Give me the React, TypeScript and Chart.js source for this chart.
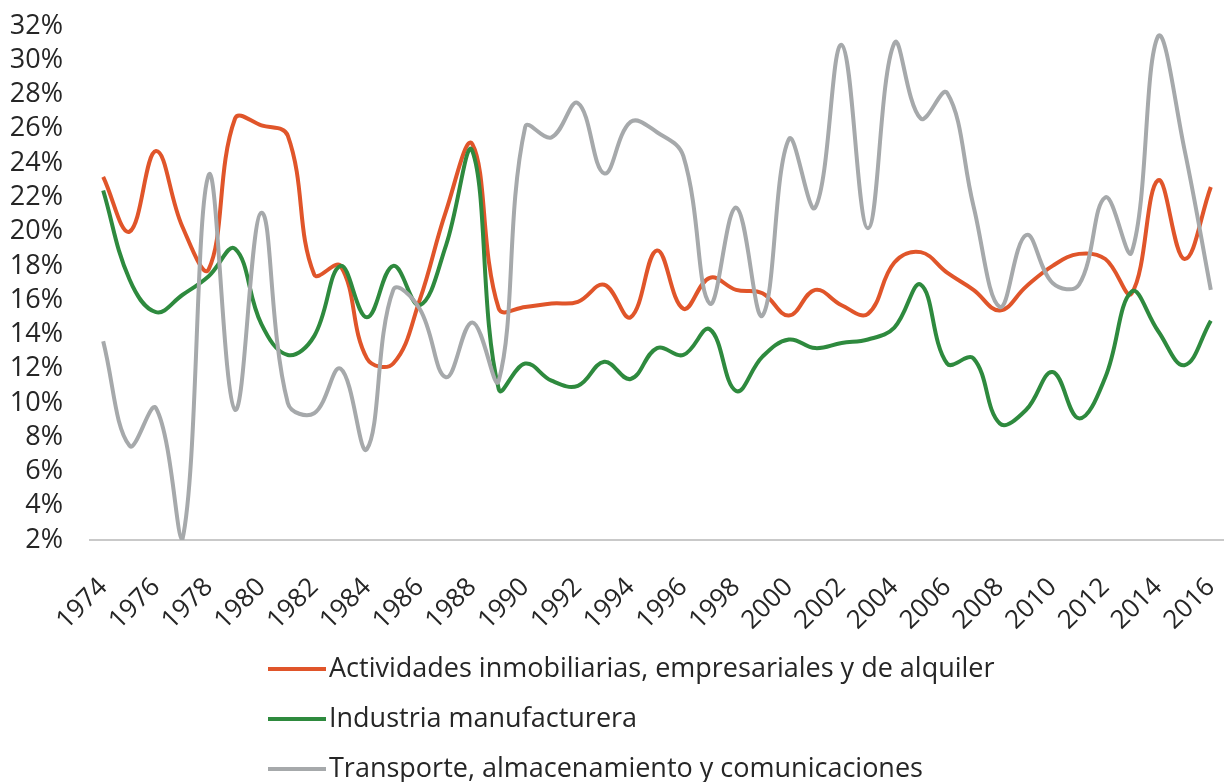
import React, { useEffect, useRef } from "react";
import { Chart, registerables } from "chart.js";

Chart.register(...registerables);

const years: string[] = [
  "1974","1975","1976","1977","1978","1979","1980","1981","1982","1983",
  "1984","1985","1986","1987","1988","1989","1990","1991","1992","1993",
  "1994","1995","1996","1997","1998","1999","2000","2001","2002","2003",
  "2004","2005","2006","2007","2008","2009","2010","2011","2012","2013",
  "2014","2015","2016",
];

const actividades: number[] = [
  23.2, 20.0, 24.7, 20.3, 17.8, 26.6, 26.2, 25.6, 17.5, 18.0,
  12.6, 12.3, 16.0, 21.2, 25.1, 15.5, 15.6, 15.8, 15.9, 16.9,
  15.0, 18.9, 15.5, 17.3, 16.6, 16.4, 15.1, 16.6, 15.7, 15.2,
  18.2, 18.8, 17.6, 16.6, 15.4, 16.8, 18.0, 18.7, 18.4, 16.4,
  23.0, 18.4, 22.6,
];

const industria: number[] = [
  22.4, 17.2, 15.3, 16.3, 17.4, 19.0, 14.6, 12.8, 13.9, 18.0,
  15.0, 18.0, 15.7, 19.2, 24.7, 10.8, 12.3, 11.3, 11.0, 12.4,
  11.4, 13.2, 12.8, 14.3, 10.7, 12.7, 13.7, 13.2, 13.5, 13.7,
  14.4, 16.9, 12.3, 12.6, 8.8, 9.6, 11.8, 9.1, 11.5, 16.5,
  14.2, 12.2, 14.8,
];

const transporte: number[] = [
  13.6, 7.5, 9.7, 2.0, 23.3, 9.6, 21.1, 10.0, 9.4, 12.0,
  7.3, 16.6, 15.5, 11.5, 14.7, 11.3, 26.1, 25.5, 27.5, 23.4,
  26.4, 25.8, 24.4, 15.8, 21.4, 15.1, 25.4, 21.4, 30.9, 20.2,
  31.0, 26.6, 28.1, 21.5, 15.6, 19.8, 17.0, 16.9, 22.0, 18.8,
  31.4, 24.8, 16.6,
];

const seriesNames: string[] = [
  "Actividades inmobiliarias, empresariales y de alquiler",
  "Industria manufacturera",
  "Transporte, almacenamiento y comunicaciones",
];

const yTicksMin = 2;
const yTicksMax = 32;
const yTickStep = 2;

const COLORS = ["#E0552A", "#2E8A3E", "#A6A9AB"];
const FONT = "'Open Sans', 'DejaVu Sans', sans-serif";
const TEXT = "#262626";

const legendPlugin = {
  id: "stackedLegend",
  afterDraw(chart: any) {
    const ctx = chart.ctx as CanvasRenderingContext2D;
    const base = chart.chartArea.bottom;
    ctx.save();
    chart.data.datasets.forEach((ds: any, i: number) => {
      const y = base + 129 + i * 50;
      ctx.strokeStyle = ds.borderColor;
      ctx.lineWidth = 4;
      ctx.lineCap = "butt";
      ctx.beginPath();
      ctx.moveTo(268, y);
      ctx.lineTo(326, y);
      ctx.stroke();
      ctx.fillStyle = TEXT;
      ctx.font = `27px ${FONT}`;
      ctx.textAlign = "left";
      ctx.textBaseline = "middle";
      ctx.fillText(ds.label, 329, y);
    });
    ctx.restore();
  },
};

export default function App() {
  const ref = useRef<HTMLCanvasElement | null>(null);
  useEffect(() => {
    document.body.style.margin = "0";
    const canvas = ref.current!;
    const mk = (i: number, data: number[], order: number) => ({
      label: seriesNames[i],
      data,
      borderColor: COLORS[i],
      backgroundColor: COLORS[i],
      borderWidth: 4,
      pointRadius: 0,
      tension: 0.4,
      fill: false,
      order,
    });
    const chart = new Chart(canvas, {
      type: "line",
      data: {
        labels: years,
        datasets: [mk(0, actividades, 2), mk(1, industria, 1), mk(2, transporte, 0)],
      },
      options: {
        animation: false,
        responsive: false,
        maintainAspectRatio: false,
        layout: { padding: { top: 26, left: 0, right: 0, bottom: 0 } },
        plugins: {
          legend: { display: false },
          tooltip: { enabled: false },
        },
        scales: {
          x: {
            offset: true,
            grid: { display: false, drawTicks: false },
            border: { display: true, color: "#C9C9C9", width: 2 },
            ticks: {
              autoSkip: false,
              maxRotation: 45,
              minRotation: 45,
              padding: 32,
              color: TEXT,
              font: { family: FONT, size: 26 },
              callback: (_v: any, idx: number) => (idx % 2 === 0 ? years[idx] : ""),
            },
            afterFit: (s: any) => {
              s.height = 242;
              s.paddingLeft = 0;
              s.paddingRight = 0;
            },
          },
          y: {
            min: yTicksMin,
            max: yTicksMax,
            grid: { display: false, drawTicks: false },
            border: { display: false },
            ticks: {
              stepSize: yTickStep,
              autoSkip: false,
              padding: 27,
              color: TEXT,
              font: { family: FONT, size: 27 },
              callback: (v: any) => `${v}%`,
            },
            afterFit: (s: any) => {
              s.width = 90;
              s.paddingTop = 0;
              s.paddingBottom = 0;
            },
          },
        },
      },
      plugins: [legendPlugin],
    });
    return () => chart.destroy();
  }, []);
  return (
    <div style={{ position: "relative", width: 1224, height: 782, background: "#fff" }}>
      <canvas ref={ref} width={1224} height={782} style={{ display: "block" }} />
    </div>
  );
}
